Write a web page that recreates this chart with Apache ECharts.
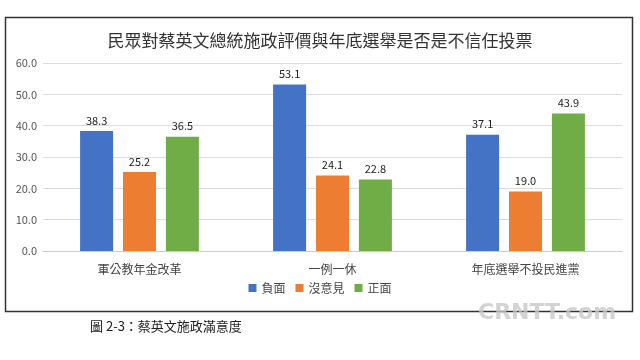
<!DOCTYPE html>
<html><head><meta charset="utf-8">
<script src="https://cdn.jsdelivr.net/npm/echarts@6/dist/echarts.min.js"></script>
<style>html,body{margin:0;padding:0;background:#fff}#c{width:640px;height:360px}</style>
</head><body><div id="c"></div>
<script>
const categories = ['軍公教年金改革', '一例一休', '年底選舉不投民進黨'];
const negative = [38.3, 53.1, 37.1];
const neutral = [25.2, 24.1, 19.0];
const positive = [36.5, 22.8, 43.9];
const seriesNames = ['負面', '沒意見', '正面'];
const yTicks = [0, 10, 20, 30, 40, 50, 60];

const font = '"Noto Sans CJK TC", "Noto Sans", sans-serif';
const chart = echarts.init(document.getElementById('c'));
const lbl = {show: true, position: 'top', color: '#222', fontSize: 11, fontFamily: font, formatter: p => p.value.toFixed(1), distance: 5};
chart.setOption({
  animation: false,
  title: {text: '民眾對蔡英文總統施政評價與年底選舉是否是不信任投票', left: 'center', top: 27,
    textStyle: {fontSize: 17, fontWeight: 'normal', color: '#333', fontFamily: font}},
  legend: {data: seriesNames, bottom: 61, itemWidth: 8, itemHeight: 8, itemGap: 10, icon: 'rect',
    textStyle: {fontSize: 12, color: '#444', fontFamily: font}},
  grid: {left: 43, right: 18, top: 63, bottom: 109},
  xAxis: {type: 'category', data: categories,
    axisLine: {lineStyle: {color: '#ccc'}}, axisTick: {show: false},
    axisLabel: {fontSize: 12, color: '#444', fontFamily: font, margin: 12}},
  yAxis: {type: 'value', min: yTicks[0], max: yTicks[yTicks.length-1], interval: 10,
    axisLine: {show: false}, axisTick: {show: false},
    splitLine: {lineStyle: {color: '#ddd'}},
    axisLabel: {formatter: v => v.toFixed(1), fontSize: 11, color: '#555', fontFamily: font, margin: 6}},
  series: [
    {name: seriesNames[0], type: 'bar', data: negative, barWidth: 33, barGap: '30%', itemStyle: {color: '#4472C4'}, label: lbl},
    {name: seriesNames[1], type: 'bar', data: neutral, barWidth: 33, barGap: '30%', itemStyle: {color: '#ED7D31'}, label: lbl},
    {name: seriesNames[2], type: 'bar', data: positive, barWidth: 33, barGap: '30%', itemStyle: {color: '#70AD47'}, label: lbl}
  ],
  graphic: [
    {type: 'rect', shape: {x: 5.5, y: 17.5, width: 627, height: 294}, style: {fill: 'none', stroke: '#333', lineWidth: 1.5}, z: -1},
    {type: 'text', left: 90, top: 320, style: {text: '圖 2-3：蔡英文施政滿意度', fontSize: 13, fill: '#222', fontFamily: '"Noto Sans CJK TC", serif'}},
    {type: 'text', left: 478, top: 302, style: {text: 'CRNTT.com', fontSize: 22, fontWeight: 'bold', fill: 'rgba(200,200,200,0.8)', fontFamily: 'DejaVu Sans'}}
  ]
});
</script></body></html>
